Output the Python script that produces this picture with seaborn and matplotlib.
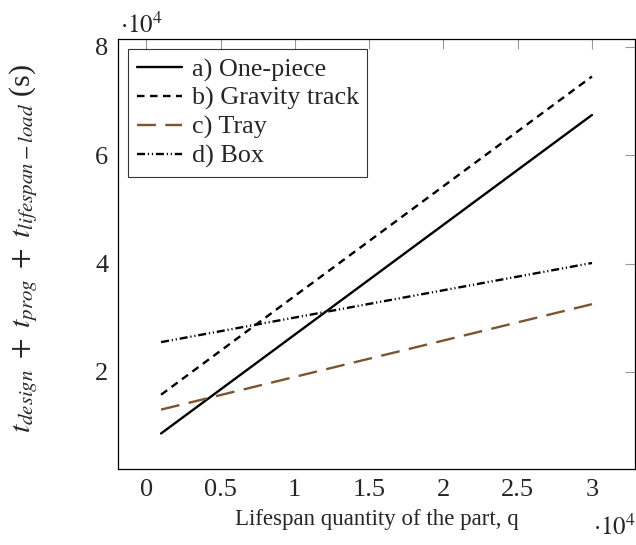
import matplotlib
matplotlib.use("Agg")
import matplotlib.pyplot as plt
import matplotlib.ticker as mticker
import seaborn as sns
import pandas as pd

# data (two end points per line)
quantity = [1000, 30000]
one_piece = [8650, 67400]
gravity_track = [15800, 74500]
tray = [13050, 32500]
box = [25500, 40100]

names = ["a) One-piece", "b) Gravity track", "c) Tray", "d) Box"]
series = [one_piece, gravity_track, tray, box]

rows = []
for name, vals in zip(names, series):
    for q, v in zip(quantity, vals):
        rows.append({"q": q, "t": v, "case": name})
df = pd.DataFrame(rows)

sns.set_style("white")
plt.rcParams["font.family"] = ["Liberation Serif", "DejaVu Serif"]
plt.rcParams["mathtext.fontset"] = "stix"

palette = {names[0]: "black", names[1]: "black", names[2]: "#7a5530", names[3]: "black"}
dashes = {names[0]: "", names[1]: (3.2, 2.3), names[2]: (8.0, 4.0),
          names[3]: (3.4, 1.2, 0.5, 1.2, 0.5, 1.2)}

fig = plt.figure(figsize=(6.36, 5.45), dpi=100)
ax = fig.add_axes([0.1855, 0.1394, 0.813, 0.789])

sns.lineplot(data=df, x="q", y="t", hue="case", style="case", palette=palette,
             dashes=dashes, linewidth=1.7, ax=ax, legend=True)

ax.set_xlim(-1900, 32900)
ax.set_ylim(2090, 81410)
ax.set_xticks([0, 5000, 10000, 15000, 20000, 25000, 30000])
ax.set_yticks([20000, 40000, 60000, 80000])
fmt = mticker.FuncFormatter(lambda v, p: f"{v / 1e4:g}")
ax.xaxis.set_major_formatter(fmt)
ax.yaxis.set_major_formatter(fmt)
ax.tick_params(direction="in", length=7, width=0.8, color="#999999",
               top=True, right=True, labelsize=19, pad=7)
for s in ax.spines.values():
    s.set_color("black")
    s.set_linewidth(0.9)

ax.set_xlabel("Lifespan quantity of the part, q", fontsize=16.5, labelpad=6)
ax.set_ylabel(r"$t_{design}\;+\;t_{prog}\;+\;t_{lifespan-load}$ (s)", fontsize=21.5)
ax.yaxis.set_label_coords(-0.15, 0.513)

fig.text(0.222, 0.953, r"$\cdot10^4$", fontsize=18, ha="center", va="center")
fig.text(0.966, 0.033, r"$\cdot10^4$", fontsize=18, ha="center", va="center")

leg = ax.legend(loc="upper left", fontsize=18.8, frameon=True, fancybox=False,
                edgecolor="black", borderaxespad=0.4, handlelength=1.75,
                handletextpad=0.35, labelspacing=0.2, borderpad=0.32)
leg.get_frame().set_linewidth(0.8)
leg.set_title(None)

fig.savefig("out.png", dpi=100)
